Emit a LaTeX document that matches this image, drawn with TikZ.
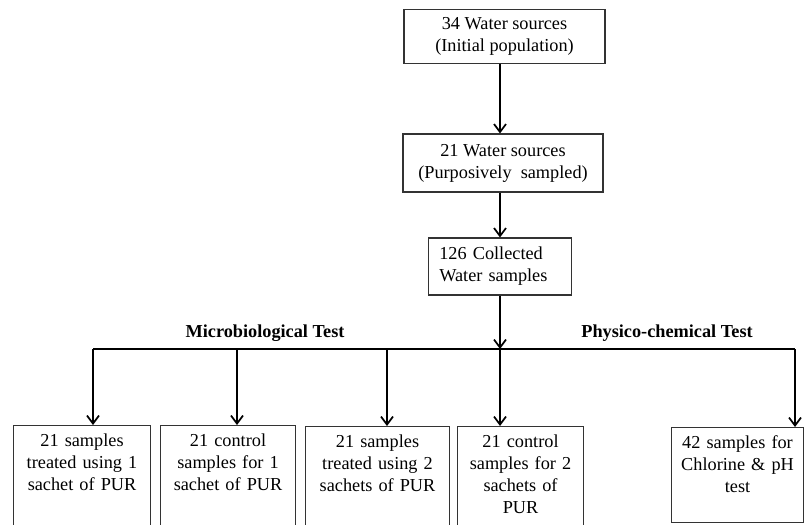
\documentclass[tikz,border=0pt]{standalone}
\usepackage{fontspec}
\setmainfont{Liberation Serif}
\usetikzlibrary{positioning, arrows.meta}

\begin{document}
\begin{tikzpicture}[x=0.75pt, y=-0.75pt]
		% Styles
		\tikzset{
			box/.style={draw=black!80, line width=0.8pt, align=center, font=\fontsize{13.7}{16.5}\selectfont},
			cutbox/.style={box, anchor=north west, inner xsep=3pt, inner ysep=3pt, text height=12.75pt, text depth=110pt},
			arrow/.style={-{Straight Barb[length=6pt, width=9pt, line width=1.3pt]}, line width=1.5pt, black},
			link/.style={line width=1.5pt, black, line join=miter},
			testlabel/.style={font=\fontsize{13.7}{16}\selectfont\bfseries}
		}
		\useasboundingbox (0,0) rectangle (804,525);
		\clip (0,0) rectangle (804,525);
		
		% Upper chain
		\node[box, minimum width=150.75pt, minimum height=40pt] (Sources_All) at (504.5,36.5) {
			34 Water sources \\ (Initial population)
		};
		\node[box, minimum width=150pt, minimum height=43.5pt] (Sources_Sampled) at (503,163) {
			21 Water sources \\ (Purposively\ \ sampled)
		};
		\node[box, align=left, text width=91pt, inner xsep=8pt, minimum height=42.75pt] (Collected) at (500,266.5) {
			126 Collected \\ Water samples
		};
		
		% Distribution line
		\coordinate (Drop_A) at (93,349);
		\coordinate (Drop_B) at (237,349);
		\coordinate (Drop_C) at (387,349);
		\coordinate (Drop_D) at (500,349);
		\coordinate (Drop_E) at (795,349);
		
		% Lower boxes (cut at the bottom edge)
		\node[cutbox, text width=96.75pt] (Micro_One) at (13,425) {
			21 samples \\ treated using 1 \\ sachet of PUR
		};
		\node[cutbox, text width=95.25pt] (Micro_Ctrl_One) at (160,425) {
			21 control \\ samples for 1 \\ sachet of PUR
		};
		\node[cutbox, text width=102pt] (Micro_Two) at (305,426) {
			21 samples \\ treated using 2 \\ sachets of PUR
		};
		\node[cutbox, text width=88.5pt] (Micro_Ctrl_Two) at (457,426) {
			21 control \\ samples for 2 \\ sachets of \\ PUR
		};
		\node[cutbox, text width=93pt, text height=12.5pt, text depth=52.8pt] (Chem_Test) at (671,427) {
			42 samples for \\ Chlorine \& pH \\ test
		};
		
		% Test labels
		\node[testlabel] (Micro_Label) at (265,333) {Microbiological Test};
		\node[testlabel] (Chem_Label) at (667,333) {Physico-chemical Test};
		
		% Arrows
		\draw[arrow] (Sources_All.south -| Collected) -- (Sources_Sampled.north -| Collected);
		\draw[arrow] (Sources_Sampled.south -| Collected) -- (Collected.north);
		\draw[arrow] (Collected.south) -- (Drop_D);
		\draw[link] (Drop_D) -- (Drop_A);
		\draw[link] (Drop_D) -- (Drop_E);
		\draw[arrow] (Drop_A) -- (Drop_A |- Micro_One.north);
		\draw[arrow] (Drop_B) -- (Drop_B |- Micro_Ctrl_One.north);
		\draw[arrow] (Drop_C) -- (Drop_C |- Micro_Two.north);
		\draw[arrow] (Drop_D) -- (Drop_D |- Micro_Ctrl_Two.north);
		\draw[arrow] (Drop_E) -- (Drop_E |- Chem_Test.north);
		
	\end{tikzpicture}
\end{document}
